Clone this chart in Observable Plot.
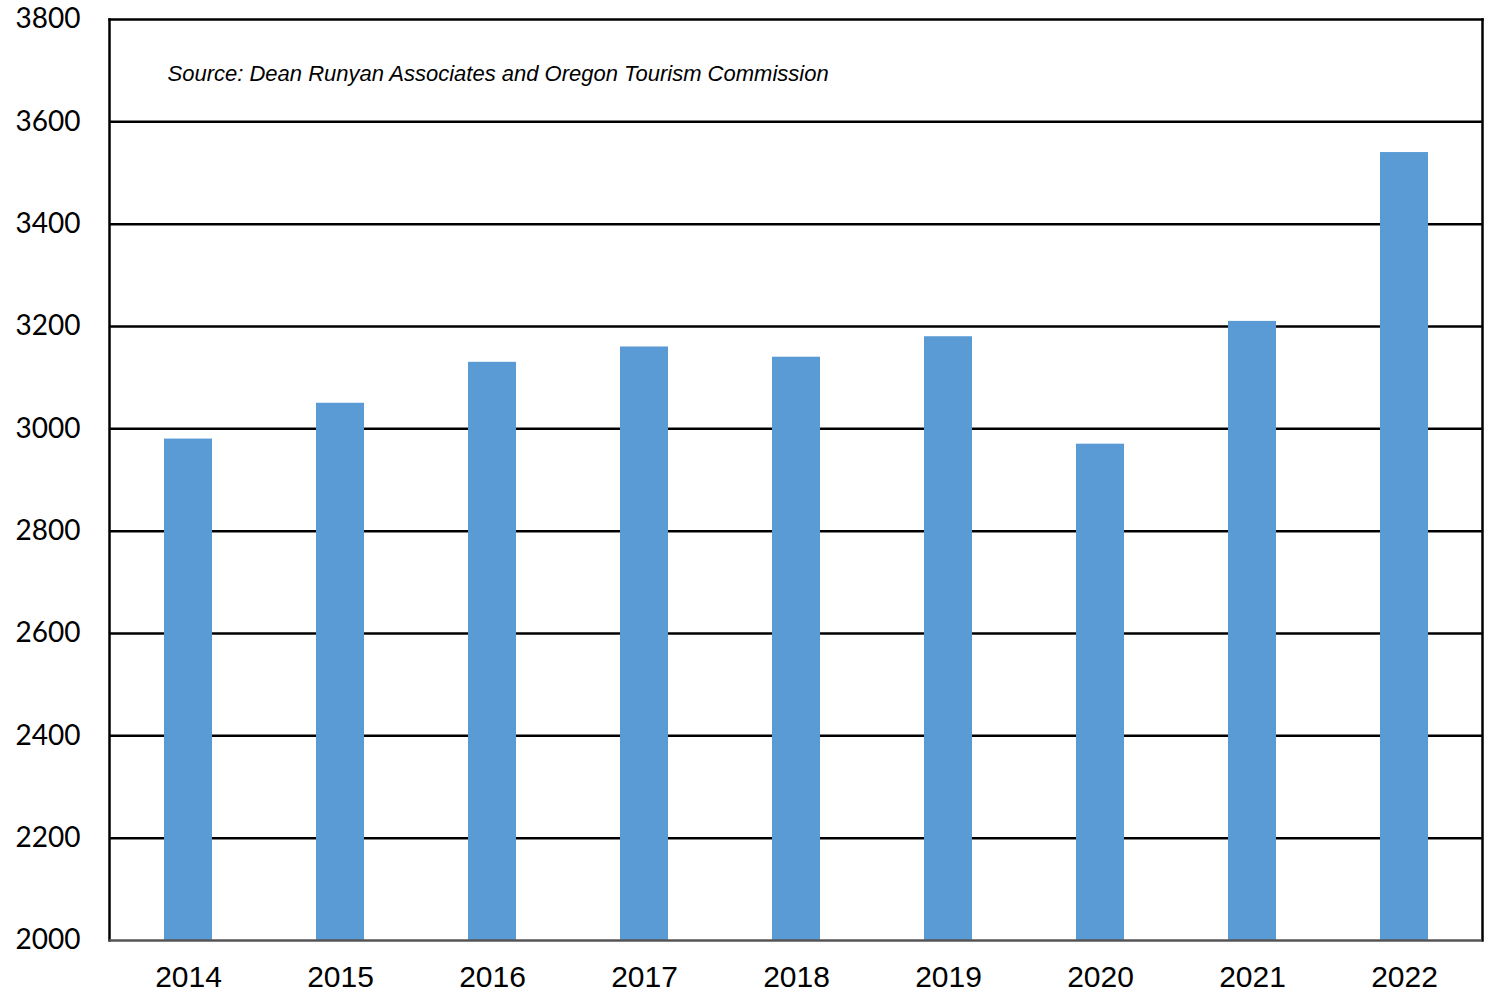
<!DOCTYPE html>
<html>
<head>
<meta charset="utf-8">
<script src="https://cdn.jsdelivr.net/npm/d3@7"></script>
<script src="https://cdn.jsdelivr.net/npm/@observablehq/plot@0.6"></script>
<style>
  html, body { margin: 0; padding: 0; background: #fff; }
</style>
</head>
<body>
<div id="chart"></div>
<script>
const years = ["2014","2015","2016","2017","2018","2019","2020","2021","2022"];
const values = [2980, 3050, 3130, 3160, 3140, 3180, 2970, 3210, 3540];
const yTicks = [2000, 2200, 2400, 2600, 2800, 3000, 3200, 3400, 3600, 3800];
const sourceNote = "Source: Dean Runyan Associates and Oregon Tourism Commission";

const data = years.map((y, i) => ({year: y, value: values[i]}));

const chart = Plot.plot({
  width: 1486,
  height: 1003,
  marginLeft: 109,
  marginRight: 4,
  marginTop: 19,
  marginBottom: 63,
  style: {background: "#fff"},
  x: {domain: years, paddingInner: 0.685, paddingOuter: 0.3425, align: 0.5},
  y: {domain: [2000, 3800]},
  marks: [
    Plot.ruleY(yTicks.filter(t => t > 2000 && t < 3800), {stroke: "#000", strokeWidth: 2.5}),
    Plot.barY(data, {x: "year", y1: 2000, y2: "value", fill: "#5b9bd5"}),
    Plot.frame({anchor: "top", stroke: "#000", strokeWidth: 2.5}),
    Plot.frame({anchor: "left", stroke: "#000", strokeWidth: 2.5}),
    Plot.frame({anchor: "right", stroke: "#000", strokeWidth: 2.5}),
    Plot.ruleY([2000], {stroke: "#555", strokeWidth: 2.5}),
    Plot.axisY({ticks: yTicks, tickFormat: d => String(d), tickSize: 0, tickPadding: 29, fontSize: 28, fontFamily: "Lato", fill: "#000", label: null}),
    Plot.axisX({tickSize: 0, tickPadding: 25, fontSize: 30, fontFamily: "Liberation Sans", fill: "#000", label: null}),
    Plot.text([sourceNote], {frameAnchor: "top-left", dx: 58, dy: 54, text: d => d, fontSize: 22, fontStyle: "italic", fontFamily: "Liberation Sans", fill: "#000", textAnchor: "start", lineAnchor: "middle"})
  ]
});
document.getElementById("chart").append(chart);
</script>
</body>
</html>
